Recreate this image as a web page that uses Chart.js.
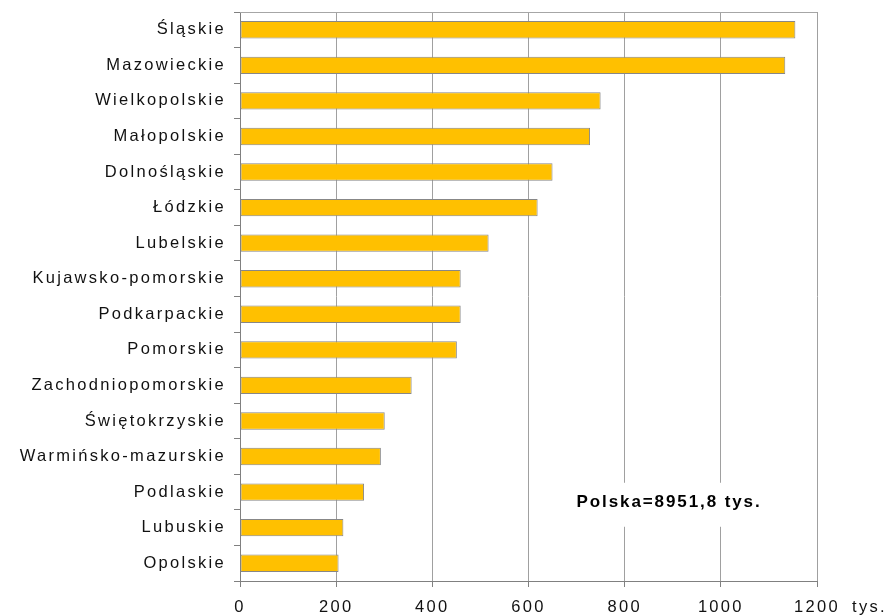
<!DOCTYPE html>
<html><head><meta charset="utf-8">
<script src="https://cdn.jsdelivr.net/npm/chart.js@4.4.1/dist/chart.umd.min.js"></script>
<style>html,body{margin:0;padding:0;background:#fff;overflow:hidden}#wrap{width:894px;height:616px}</style>
</head><body><div id="wrap"><canvas id="c" width="894" height="616"></canvas></div>
<script>
const categories = ['Śląskie','Mazowieckie','Wielkopolskie','Małopolskie','Dolnośląskie','Łódzkie','Lubelskie','Kujawsko-pomorskie','Podkarpackie','Pomorskie','Zachodniopomorskie','Świętokrzyskie','Warmińsko-mazurskie','Podlaskie','Lubuskie','Opolskie'];
const values = [1155,1134,750,728,650,619,517,459,459,451,357,301,293,258,215,205];
const xTicks = [0,200,400,600,800,1000,1200];
const unitLabel = 'tys.';
const totalNote = 'Polska=8951,8 tys.';

const FONT = "'Liberation Sans', Arial, sans-serif";
const LS = '2.3px';

const spacing = {
  id: 'spacing',
  afterInit(c){ c.ctx.letterSpacing = LS; },
  beforeUpdate(c){ c.ctx.letterSpacing = LS; },
  beforeLayout(c){ c.ctx.letterSpacing = LS; },
  beforeDraw(c){ c.ctx.letterSpacing = LS; }
};

const extras = {
  id: 'extras',
  afterDraw(c){
    const ctx = c.ctx, a = c.chartArea, xs = c.scales.x, ys = c.scales.y;
    ctx.save();
    // top border
    ctx.strokeStyle = '#a6a6a6';
    ctx.lineWidth = 1;
    ctx.beginPath();
    ctx.moveTo(a.left, a.top + 0.5);
    ctx.lineTo(a.right, a.top + 0.5);
    ctx.stroke();
    // note box
    const tx = xs.getPixelForValue(700);
    const ty = ys.getPixelForValue(13.3);
    ctx.fillStyle = '#fff';
    ctx.fillRect(tx - 8, ty - 20, 204, 44);
    ctx.font = 'bold 17px ' + FONT;
    ctx.letterSpacing = '1.9px';
    ctx.fillStyle = '#000';
    ctx.textAlign = 'left';
    ctx.textBaseline = 'middle';
    ctx.fillText(totalNote, tx, ty);
    // unit label
    ctx.font = '16.5px ' + FONT;
    ctx.letterSpacing = LS;
    ctx.fillStyle = '#111';
    ctx.fillText(unitLabel, a.right + 35, xs.top + 26);
    ctx.restore();
  }
};

new Chart(document.getElementById('c'), {
  type: 'bar',
  data: {
    labels: categories,
    datasets: [{
      data: values,
      backgroundColor: '#FFC000',
      borderColor: '#878787',
      borderWidth: 1,
      borderSkipped: false,
      barPercentage: 0.49,
      categoryPercentage: 1.0
    }]
  },
  options: {
    indexAxis: 'y',
    responsive: false,
    animation: false,
    devicePixelRatio: 1,
    layout: { padding: { top: 12, right: 77, bottom: 0, left: 0 } },
    plugins: { legend: { display: false }, tooltip: { enabled: false } },
    scales: {
      x: {
        min: 0, max: 1200,
        afterBuildTicks: s => { s.ticks = xTicks.map(v => ({ value: v })); },
        afterFit: s => { s.height = 35; },
        grid: { color: '#a0a0a0', tickColor: '#808080', tickLength: 6, lineWidth: 1 },
        border: { color: '#808080', width: 1 },
        ticks: { padding: 11, color: '#111', font: { family: FONT, size: 16.5 }, callback: v => String(v), maxRotation: 0, autoSkip: false }
      },
      y: {
        afterFit: s => { s.width = 240; s.paddingTop = 0; s.paddingBottom = 0; },
        grid: { drawOnChartArea: false, offset: true, tickLength: 6, color: '#808080' },
        border: { color: '#808080', width: 1 },
        ticks: { padding: 8, color: '#111', font: { family: FONT, size: 16.5 }, autoSkip: false }
      }
    }
  },
  plugins: [spacing, extras]
});
</script></body></html>
